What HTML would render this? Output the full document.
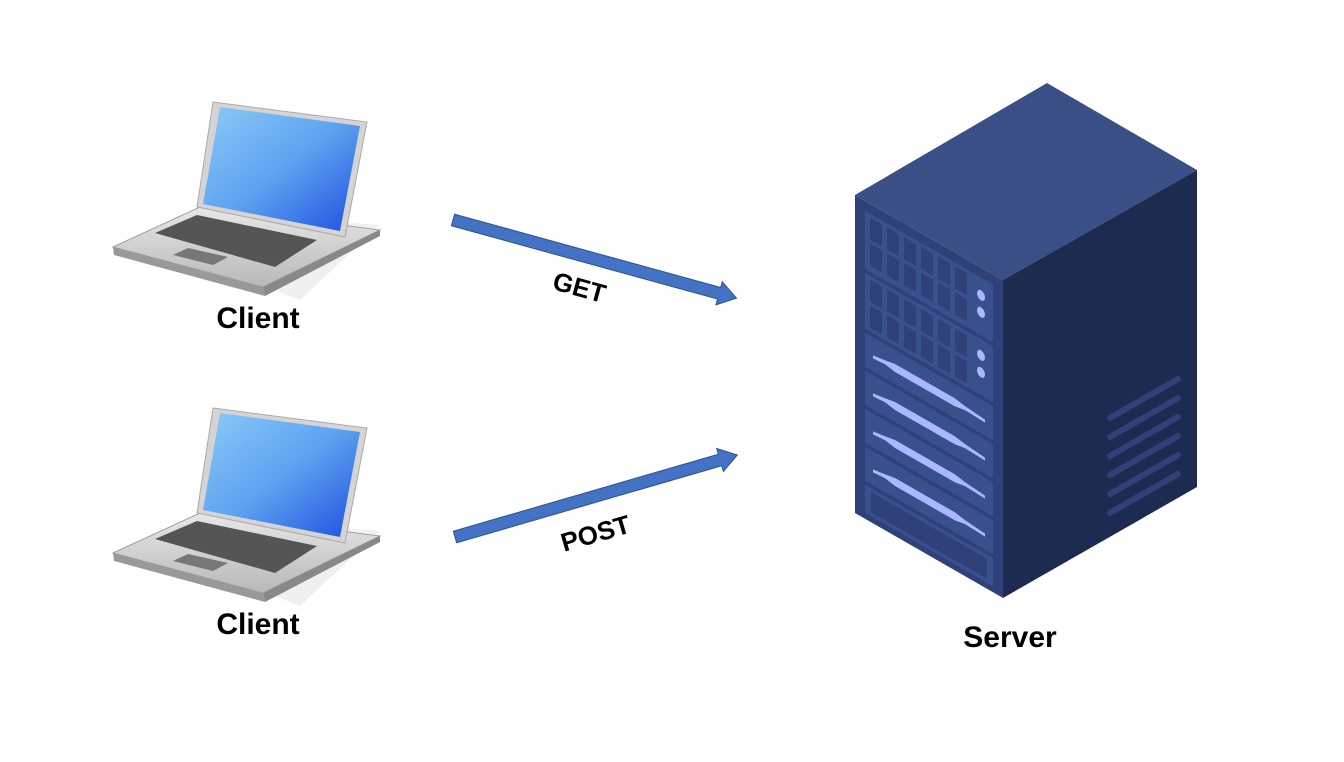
<!DOCTYPE html>
<html><head><meta charset="utf-8"><style>
body{margin:0;background:#fff;width:1344px;height:757px;overflow:hidden}
svg text{font-family:"Liberation Sans",sans-serif;font-weight:bold;fill:#000}
</style></head><body>
<svg width="1344" height="757" viewBox="0 0 1344 757">
<defs>
<linearGradient id="scr" x1="0" y1="0" x2="1" y2="1">
<stop offset="0" stop-color="#8ccaf7"/><stop offset="0.5" stop-color="#5da3f0"/><stop offset="1" stop-color="#1f4fe0"/></linearGradient>
<linearGradient id="base" x1="0" y1="0" x2="0" y2="1">
<stop offset="0" stop-color="#e8e8e8"/><stop offset="1" stop-color="#b8b8b8"/></linearGradient>
<g id="laptop">
<polygon points="250,215 380,225 300,300 250,280" fill="#e6e6e6" opacity="0.6"/>
<polygon points="113,247 200,207 380,230 263,287" fill="url(#base)" stroke="#a0a0a0"/>
<polygon points="113,247 263,287 265,296 114,255" fill="#999"/>
<polygon points="263,287 380,230 380,236 265,296" fill="#888"/>
<polygon points="213,102 367,122 345,237 197,207" fill="#d4d4d4" stroke="#aaa"/>
<polygon points="220,107 360,126 340,231 203,204" fill="url(#scr)"/>
<polygon points="155,233 197,215 317,240 275,267" fill="#555"/>
<polygon points="173,255 188,248 228,257 213,265" fill="#777"/>
</g>
<g id="arrow"><polygon points="0,-6 276,-6 276,-12 294,0 276,12 276,6 0,6" fill="#4472C4" stroke="#2f528f" stroke-width="1"/></g>
</defs>
<use href="#laptop"/>
<use href="#laptop" transform="translate(0,306)"/>
<text x="258" y="328" font-size="30" text-anchor="middle">Client</text>
<text x="258" y="634" font-size="30" text-anchor="middle">Client</text>
<text x="1010" y="647" font-size="30" text-anchor="middle">Server</text>
<use href="#arrow" transform="translate(453,220) rotate(15.4)"/>
<use href="#arrow" transform="translate(455,537) rotate(-16.2)"/>
<text font-size="26" text-anchor="middle" transform="translate(577,296) rotate(15.4)">GET</text>
<text font-size="26" text-anchor="middle" transform="translate(598,542) rotate(-16.2)">POST</text>
<polygon points="1047,83 1197,170 1003,280 855,195" fill="#3b4f87"/>
<polygon points="1003,280 1197,170 1197,487 1003,598" fill="#1d2b51"/>
<polygon points="855,195 1003,280 1003,598 855,513" fill="#2f4178"/>
<g stroke="#2f4178" stroke-width="6" stroke-linecap="round">
<line x1="1110" y1="418" x2="1178" y2="379"/><line x1="1110" y1="437" x2="1178" y2="398"/>
<line x1="1110" y1="456" x2="1178" y2="417"/><line x1="1110" y1="475" x2="1178" y2="436"/>
<line x1="1110" y1="494" x2="1178" y2="455"/><line x1="1110" y1="513" x2="1178" y2="474"/>
</g>
<g transform="matrix(1,0.574,0,1,855,195)">
<g fill="#38508c">
<rect x="10" y="10" width="128" height="58"/><rect x="10" y="72" width="128" height="56"/>
<rect x="10" y="132" width="128" height="34"/><rect x="10" y="170" width="128" height="34"/>
<rect x="10" y="208" width="128" height="34"/><rect x="10" y="246" width="128" height="34"/>
<rect x="10" y="284" width="128" height="28"/></g>
<rect x="16" y="288" width="116" height="20" fill="#2f4178"/>
<g fill="#2f4178">
<rect x="15" y="14" width="12" height="22"/><rect x="32" y="14" width="12" height="22"/><rect x="49" y="14" width="12" height="22"/><rect x="66" y="14" width="12" height="22"/><rect x="83" y="14" width="12" height="22"/><rect x="100" y="14" width="12" height="22"/>
<rect x="15" y="40" width="12" height="22"/><rect x="32" y="40" width="12" height="22"/><rect x="49" y="40" width="12" height="22"/><rect x="66" y="40" width="12" height="22"/><rect x="83" y="40" width="12" height="22"/><rect x="100" y="40" width="12" height="22"/>
<rect x="15" y="76" width="12" height="22"/><rect x="32" y="76" width="12" height="22"/><rect x="49" y="76" width="12" height="22"/><rect x="66" y="76" width="12" height="22"/><rect x="83" y="76" width="12" height="22"/><rect x="100" y="76" width="12" height="22"/>
<rect x="15" y="102" width="12" height="22"/><rect x="32" y="102" width="12" height="22"/><rect x="49" y="102" width="12" height="22"/><rect x="66" y="102" width="12" height="22"/><rect x="83" y="102" width="12" height="22"/><rect x="100" y="102" width="12" height="22"/>
</g>
<g fill="#aab8ff">
<ellipse cx="126" cy="28" rx="4" ry="5"/><ellipse cx="126" cy="45" rx="4" ry="5"/>
<ellipse cx="126" cy="88" rx="4" ry="5"/><ellipse cx="126" cy="105" rx="4" ry="5"/>
<polygon points="18,150 30,148 40,146 100,146 110,148 130,150 130,153 110,152 100,154 40,154 30,152 18,153"/>
<polygon points="18,188 30,186 40,184 100,184 110,186 130,188 130,191 110,190 100,192 40,192 30,190 18,191"/>
<polygon points="18,226 30,224 40,222 100,222 110,224 130,226 130,229 110,228 100,230 40,230 30,228 18,229"/>
<polygon points="18,264 30,262 40,260 100,260 110,262 130,264 130,267 110,266 100,268 40,268 30,266 18,267"/>
</g>
</g>
</svg>
</body></html>
